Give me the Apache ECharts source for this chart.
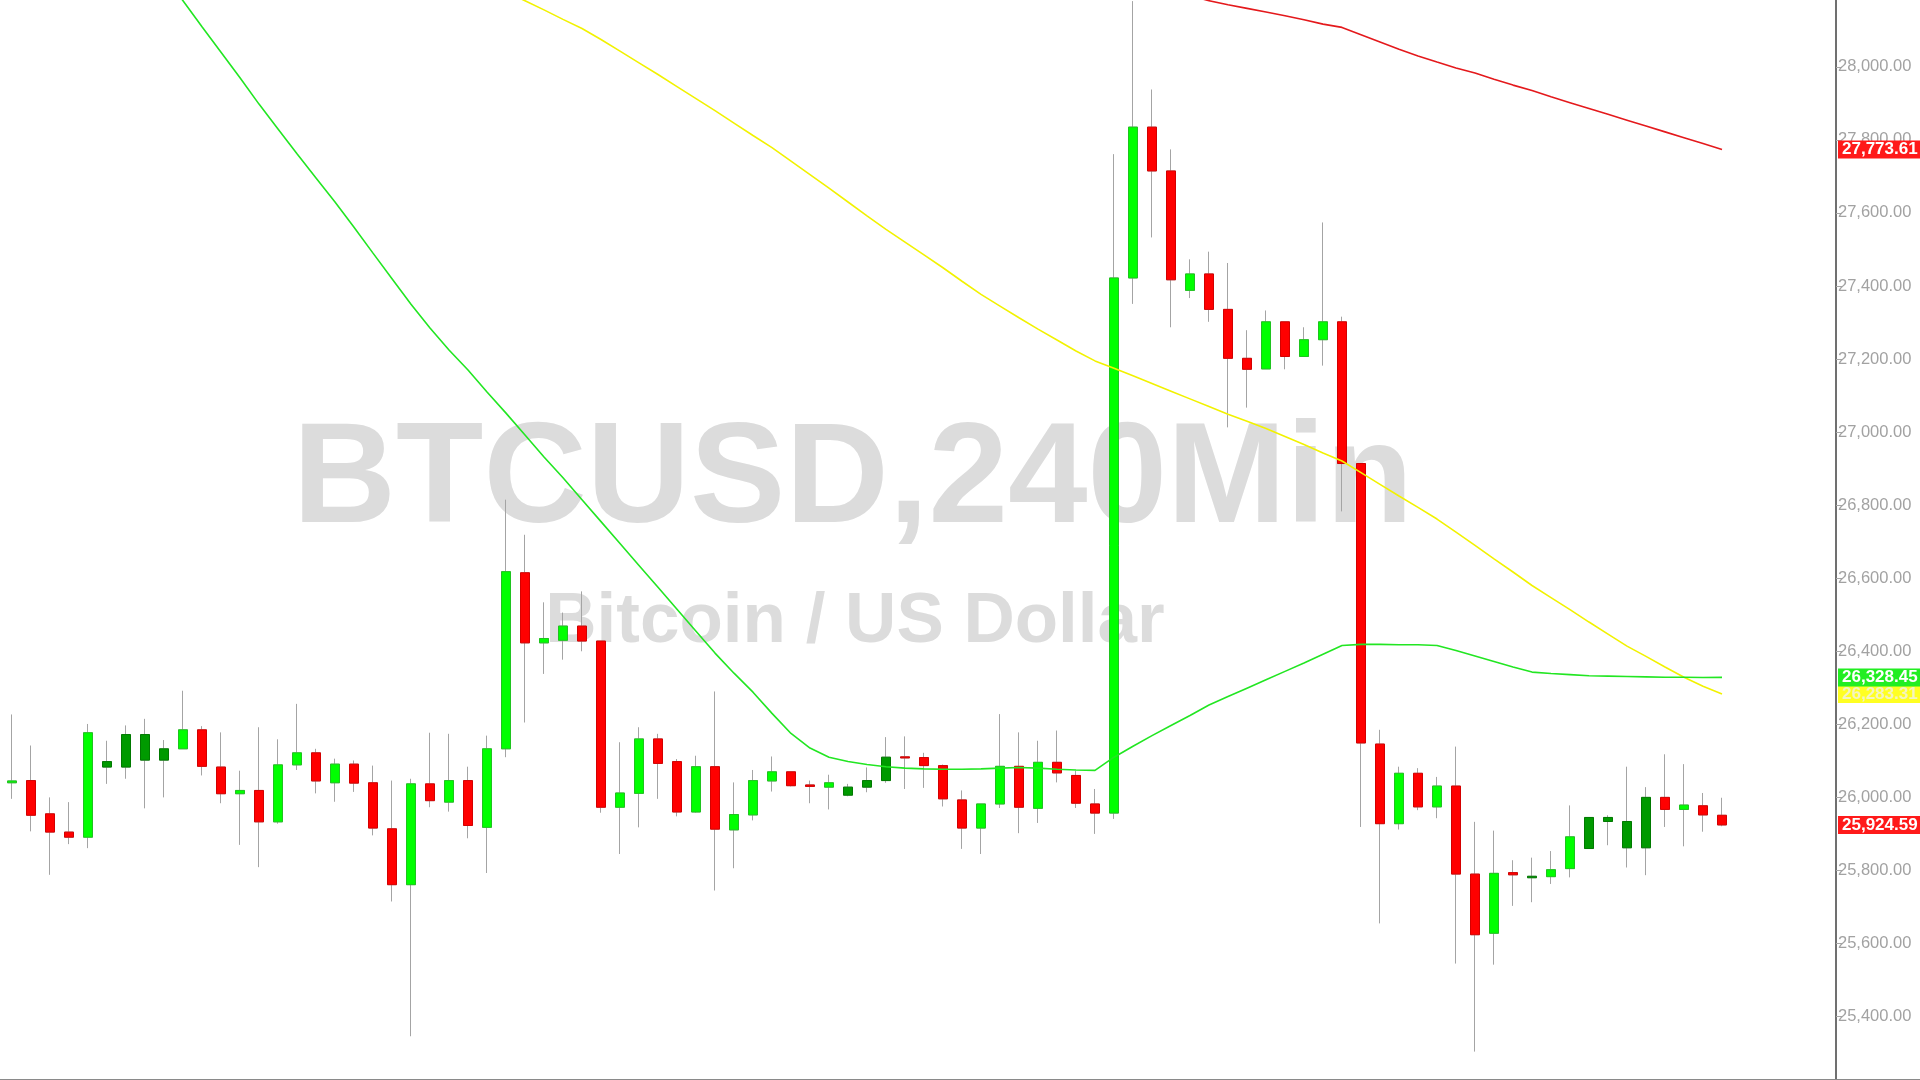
<!DOCTYPE html>
<html>
<head>
<meta charset="utf-8">
<script src="https://cdn.jsdelivr.net/npm/echarts@6/dist/echarts.min.js"></script>
<style>
html,body{margin:0;padding:0;background:#fff;}
#c{width:1920px;height:1080px;}
</style>
</head>
<body>
<div id="c"></div>
<script>
// ---- data (BTCUSD 240 min) ----
const categories = Array.from({length: 91}, (_, i) => String(i + 1));
const opens = [26040,26046,25955,25905,25891,26098,26083,26172,26102,26133,26185,26083,26010,26019,25933,26089,26122,26040,26091,26040,25914,25761,26037,25987,26046,25918,26133,26615,26423,26430,26469,26428,25973,26011,26160,26098,25960,26084,25911,25952,26045,26070,26034,26028,26006,26028,26046,26111,26109,26087,25993,25916,25982,26085,25970,26096,26060,25982,25957,27422,27835,27715,27388,27433,27336,27202,27173,27302,27207,27253,27302,26914,26146,25928,26066,25974,26031,25790,25628,25794,25780,25783,25805,25860,25945,25934,25862,26000,25967,25977,25951];
const closes = [26045,25951,25905,25891,26177,26083,26172,26102,26133,26185,26085,26010,26019,25933,26089,26122,26045,26091,26039,25916,25761,26037,25991,26046,25923,26133,26618,26423,26435,26469,26428,25973,26012,26160,26093,25960,26084,25913,25953,26046,26070,26032,26030,26040,26028,26046,26110,26108,26087,25996,25916,25982,26085,25973,26096,26067,25984,25957,27422,27835,27715,27417,27433,27336,27202,27172,27302,27207,27253,27302,26914,26149,25928,26066,25974,26031,25790,25624,25792,25788,25784,25802,25892,25945,25934,25862,26000,25967,25979,25952,25924.59];
const lows = [25996,25907,25788,25872,25861,26037,26051,25970,26000,26133,26060,25984,25870,25809,25928,26075,26011,25988,26015,25896,25715,25346,25973,25961,25888,25793,26110,26205,26338,26377,26400,25958,25845,25918,25996,25948,25958,25745,25806,25937,26016,26030,25984,25967,26003,26014,26040,26023,26026,25975,25859,25845,25971,25902,25930,26041,25971,25900,25941,27351,27533,27287,27367,27302,27013,27067,27173,27172,27207,27182,26783,25919,25655,25912,25965,25943,25545,25304,25542,25703,25713,25763,25781,25860,25869,25808,25787,25919,25866,25906,25921];
const highs = [26227,26142,26000,25987,26201,26155,26197,26215,26157,26292,26195,26178,26073,26192,26159,26256,26133,26106,26101,26087,26046,26051,26177,26174,26084,26169,26815,26719,26534,26506,26564,26428,26151,26192,26174,26105,26114,26290,26041,26075,26112,26070,26046,26062,26037,26082,26165,26167,26122,26090,26019,25982,26228,26178,26155,26183,26073,26023,27761,28180,27938,27774,27473,27494,27463,27279,27333,27302,27287,27574,27316,26914,26185,26084,26080,26056,26139,25933,25909,25828,25835,25853,25978,25945,25951,26084,26028,26118,26091,26012,25999];
// candles drawn in the darker shade
const darkCandles = [5,6,7,8,44,45,46,80,83,84,85,86];
// moving averages ('-' = outside the visible window)
const maGreen = ['-','-','-','-','-','-','-','-',28250,28181,28110,28040,27970,27898,27830,27762,27696,27630,27561,27490,27420,27350,27285,27225,27170,27110,27052,26992,26932,26875,26815,26755,26695,26635,26575,26515,26455,26395,26340,26288,26230,26175,26135,26110,26098,26090,26084,26080,26078,26077,26077,26078,26080,26082,26080,26077,26075,26074,26110,26140,26169,26197,26224,26253,26276,26299,26322,26345,26368,26392,26416,26419,26419,26418,26418,26416,26402,26387,26372,26357,26343,26339,26336,26333,26332,26331,26330,26329,26329,26328,26328.45];
const maYellow = ['-','-','-','-','-','-','-','-','-','-','-','-','-','-','-','-','-','-','-','-','-','-','-','-','-','-',28205,28181,28156,28130,28105,28075,28043,28011,27979,27946,27913,27880,27846,27812,27779,27742,27705,27668,27630,27592,27555,27520,27485,27450,27413,27377,27345,27313,27282,27252,27222,27195,27175,27154,27133,27112,27091,27070,27049,27030,27010,26988,26966,26943,26921,26889,26857,26825,26794,26762,26726,26690,26653,26617,26580,26547,26514,26480,26447,26414,26386,26357,26329,26304,26283.31];
const maRed = ['-','-','-','-','-','-','-','-','-','-','-','-','-','-','-','-','-','-','-','-','-','-','-','-','-','-','-','-','-','-','-','-','-','-','-','-','-','-','-','-','-','-','-','-','-','-','-','-','-','-','-','-','-','-','-','-','-','-','-','-','-','-',28195,28181,28170,28160,28150,28140,28129,28117,28108,28088,28068,28048,28030,28013,27997,27983,27966,27950,27935,27918,27902,27886,27870,27854,27838,27822,27806,27790,27773.61];
const lastClose = 25924.59;
const titleMain = 'BTCUSD,240Min';
const titleSub = 'Bitcoin / US Dollar';

// ---- build ----
const FONT = '"Liberation Sans", Arial, sans-serif';
const fmt = v => Number(v).toLocaleString('en-US', {minimumFractionDigits: 2, maximumFractionDigits: 2});

const wickData = opens.map((o, i) => [o, closes[i], lows[i], highs[i]]);
const bodyData = opens.map((o, i) => {
  const c = closes[i];
  const item = {value: [o, c, Math.min(o, c), Math.max(o, c)]};
  if (darkCandles.includes(i)) {
    item.itemStyle = {color: '#009a00', color0: '#a00000', borderColor: '#007a00', borderColor0: '#800000'};
  }
  return item;
});

function tag(value, bg, textColor) {
  return {
    symbol: ['none', 'none'],
    silent: true,
    animation: false,
    lineStyle: {color: 'rgba(0,0,0,0)', width: 0, type: 'solid'},
    label: {
      show: true, position: 'end', distance: 2,
      formatter: () => fmt(value),
      color: textColor, backgroundColor: bg,
      fontFamily: FONT, fontWeight: 'bold', fontSize: 17, lineHeight: 17,
      padding: [1, 3, 0, 4]
    },
    emphasis: {disabled: true},
    data: [{yAxis: value}]
  };
}

const chart = echarts.init(document.getElementById('c'));
chart.setOption({
  animation: false,
  backgroundColor: '#ffffff',
  grid: {left: 12, right: 84, top: 0, bottom: 1, containLabel: false},
  graphic: [
    {type: 'text', z: -10, x: 853, y: 483,
     style: {text: titleMain, font: 'bold 143px ' + FONT, fill: '#dcdcdc', textAlign: 'center', textVerticalAlign: 'middle'}},
    {type: 'text', z: -10, x: 855, y: 622,
     style: {text: titleSub, font: 'bold 71px ' + FONT, fill: '#dcdcdc', textAlign: 'center', textVerticalAlign: 'middle'}},
    {type: 'line', z: 10, shape: {x1: 0, y1: 1079.5, x2: 1920, y2: 1079.5}, style: {stroke: '#8a8a8a', lineWidth: 1}}
  ],
  xAxis: {
    type: 'category', data: categories, boundaryGap: false, max: 96,
    axisLine: {show: false}, axisTick: {show: false}, axisLabel: {show: false}, splitLine: {show: false}
  },
  yAxis: {
    type: 'value', position: 'right', min: 25229, max: 28183, splitNumber: 15, scale: true,
    axisLine: {show: true, lineStyle: {color: '#707070', width: 2}},
    axisTick: {show: true, length: 6, lineStyle: {color: '#a8a8a8'}},
    splitLine: {show: false},
    axisLabel: {
      show: true, margin: 2, color: '#a2a2a2', fontFamily: FONT, fontSize: 16.5,
      showMinLabel: false, showMaxLabel: false,
      formatter: v => fmt(v)
    }
  },
  series: [
    {
      name: 'wicks', type: 'candlestick', data: wickData, barWidth: 9, clip: false, z: 2,
      itemStyle: {color: 'transparent', color0: 'transparent', borderColor: '#a4a4a4', borderColor0: '#a4a4a4', borderWidth: 1}
    },
    {
      name: 'bodies', type: 'candlestick', data: bodyData, barWidth: 9, clip: false, z: 3,
      itemStyle: {color: '#00ff00', color0: '#ff0000', borderColor: '#1fc41f', borderColor0: '#d40000', borderWidth: 1},
      markLine: tag(lastClose, '#ff1a1a', '#ffffff')
    },
    {
      name: 'maRed', type: 'line', data: maRed, symbol: 'none', smooth: false, z: 4, clip: true,
      lineStyle: {color: '#e4191c', width: 1.6},
      markLine: tag(maRed[maRed.length - 1], '#ff1a1a', '#ffffff')
    },
    {
      name: 'maYellow', type: 'line', data: maYellow, symbol: 'none', smooth: false, z: 5,
      lineStyle: {color: '#f2f200', width: 1.6},
      markLine: tag(maYellow[maYellow.length - 1], '#ffff22', '#f4f4c0')
    },
    {
      name: 'maGreen', type: 'line', data: maGreen, symbol: 'none', smooth: false, z: 6,
      lineStyle: {color: '#22e622', width: 1.6},
      markLine: tag(maGreen[maGreen.length - 1], '#22ee22', '#ffffff')
    }
  ]
});
</script>
</body>
</html>
